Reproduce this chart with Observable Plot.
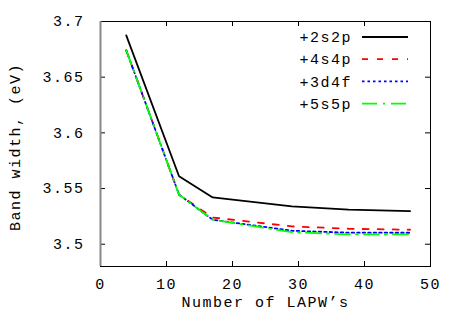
<!DOCTYPE html>
<html><head><meta charset="utf-8">
<script src="https://cdn.jsdelivr.net/npm/d3@7"></script>
<script src="https://cdn.jsdelivr.net/npm/@observablehq/plot@0.6"></script>
<style>
body{margin:0;background:#fff}
svg{font-family:"Liberation Mono",monospace}
</style>
</head><body><div id="chart"></div>
<script>
// Data
const lapw = [3.9, 11.9, 17, 29, 37.6, 46.9];
const series = ["+2s2p", "+4s4p", "+3d4f", "+5s5p"];
const v2s2p = [3.6875, 3.561, 3.542, 3.534, 3.531, 3.5297];
const v4s4p = [3.6742, 3.5445, 3.524, 3.516, 3.5139, 3.513];
const v3d4f = [3.6742, 3.5445, 3.522, 3.5121, 3.5104, 3.5103];
const v5s5p = [3.6742, 3.5445, 3.522, 3.5108, 3.5089, 3.5088];
const xTicks = [0, 10, 20, 30, 40, 50];
const yTicks = [3.5, 3.55, 3.6, 3.65, 3.7];
const xLabel = "Number of LAPW\u2019s";
const yLabel = "Band width, (eV)";

const colors = ["#000000", "#ff0000", "#0000ff", "#00ff00"];
const dashes = [null, "6,9", "2.5,3", "15,6,2,6"];
const values = [v2s2p, v4s4p, v3d4f, v5s5p];
const rows = values.flatMap((vals, i) => vals.map((v, j) => ({series: series[i], x: lapw[j], y: v})));

const W = 463, H = 324, mL = 100, mR = 33, mT = 21, mB = 58;
const fw = W - mL - mR, fh = H - mT - mB;
const fmt = d => String(+d.toFixed(2));

const plot = Plot.plot({
  width: W, height: H,
  marginLeft: mL, marginRight: mR, marginTop: mT, marginBottom: mB,
  style: {fontSize: "15px", fontFamily: "Liberation Mono, monospace", background: "#fff", color: "#000"},
  x: {domain: [0, 50]},
  y: {domain: [3.48, 3.7]},
  marks: [
    Plot.axisX({ticks: xTicks, tickSize: 0, tickPadding: 12, tickFormat: d => d, label: null}),
    Plot.axisY({ticks: yTicks, tickSize: 0, tickPadding: 16, tickFormat: fmt, label: null}),
    Plot.tickX(xTicks, {x: d => d, insetTop: fh - 5, stroke: "#000"}),
    Plot.tickX(xTicks, {x: d => d, insetBottom: fh - 5, stroke: "#000"}),
    Plot.tickY(yTicks, {y: d => d, insetRight: fw - 5, stroke: "#000"}),
    Plot.tickY(yTicks, {y: d => d, insetLeft: fw - 5, stroke: "#000"}),
    Plot.frame({stroke: "#000"}),
    Plot.ruleX([0], {stroke: "#888", strokeWidth: 2}),
    ...series.map((s, i) => Plot.line(rows.filter(r => r.series === s), {
      x: "x", y: "y", stroke: colors[i], strokeWidth: 1.8, strokeDasharray: dashes[i]
    })),
    Plot.text([xLabel], {text: d => d, frameAnchor: "bottom", lineAnchor: "middle", textAnchor: "middle", dy: 36, fontSize: 15}),
    Plot.text([yLabel], {text: d => d, frameAnchor: "left", textAnchor: "middle", lineAnchor: "middle", dx: -85, dy: 3, rotate: -90, fontSize: 15})
  ]
});

const svg = d3.select(plot);
const lg = svg.append("g").attr("font-size", 15);
series.forEach((s, i) => {
  const y = 37 + i * 22.2;
  lg.append("text").attr("x", 352).attr("y", y).attr("dy", "0.35em").attr("text-anchor", "end").text(s);
  lg.append("line").attr("x1", 362).attr("x2", 408).attr("y1", y).attr("y2", y)
    .attr("stroke", colors[i]).attr("stroke-width", 1.8).attr("stroke-dasharray", dashes[i]);
});
svg.selectAll("text").style("letter-spacing", "1.5px");

document.getElementById("chart").append(plot);
</script>
</body></html>
